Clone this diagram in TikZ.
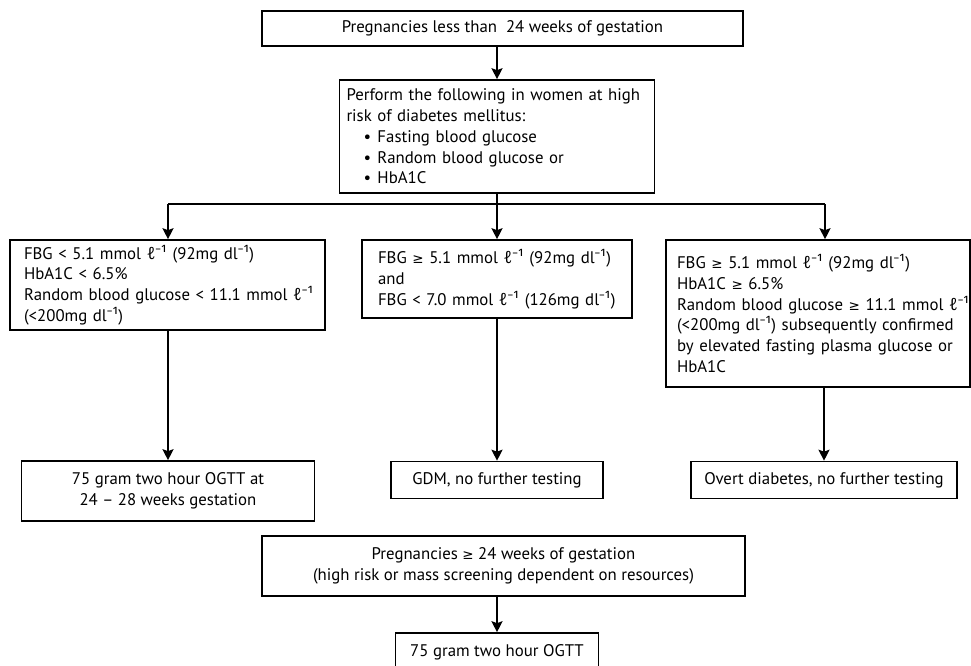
\documentclass[tikz,border=0pt]{standalone}
\usepackage{fontspec}
\setmainfont{PT Sans}
\newfontfamily\symf{Noto Sans}
\newfontfamily\geqf{DejaVu Sans}
\usetikzlibrary{arrows.meta}
\newcommand{\ellinv}{{\symf ℓ⁻¹}}
\newcommand{\myinv}{{\symf ⁻¹}}
\newcommand{\geqs}{{\geqf\fontsize{13.5}{20}\selectfont ≥}}
\newcommand{\bul}{\hspace*{17pt}\makebox[14pt][l]{•}}
\begin{document}
\begin{tikzpicture}[x=1pt,y=-1pt,
  box/.style={draw, line width=1.6pt, inner sep=0pt,
    font=\fontsize{16.8}{20.8}\selectfont},
  lbox/.style={box, align=left},
  cbox/.style={box, align=center},
  arr/.style={line width=1.8pt, -{Stealth[length=11pt,width=11pt,inset=2pt]}},
  ln/.style={line width=1.8pt}]
\useasboundingbox (0,0) rectangle (971,666);
\clip (0,0) rectangle (971,666);

\node[cbox, minimum width=481pt, minimum height=35pt] (top) at (502.5,28.5)
  {Pregnancies less than\ \ 24 weeks of gestation};

\node[lbox, minimum width=315pt, minimum height=113pt, text width=301pt] (b2) at (497,136.5)
  {\mbox{Perform the following in women at high}\\
   \mbox{risk of diabetes mellitus:}\\
   \mbox{\bul Fasting blood glucose}\\
   \mbox{\bul Random blood glucose or}\\
   \mbox{\bul HbA1C}};

\node[lbox, minimum width=315pt, minimum height=90pt, text width=287pt] (ml) at (167.5,285)
  {\mbox{FBG < 5.1 mmol \ellinv{} (92mg dl\myinv)}\\
   \mbox{HbA1C < 6.5\%}\\
   \mbox{Random blood glucose < 11.1 mmol \ellinv}\\
   \mbox{(<200mg dl\myinv)}};

\node[lbox, minimum width=270pt, minimum height=78pt, text width=238pt] (mm) at (497,279)
  {\mbox{FBG \geqs{} 5.1 mmol \ellinv{} (92mg dl\myinv)}\\
   \mbox{and}\\
   \mbox{FBG < 7.0 mmol \ellinv{} (126mg dl\myinv)}};

\node[lbox, minimum width=304pt, minimum height=147pt, text width=282pt] (mr) at (818,313.5)
  {\mbox{FBG \geqs{} 5.1 mmol \ellinv{} (92mg dl\myinv)}\\
   \mbox{HbA1C \geqs{} 6.5\%}\\
   \mbox{Random blood glucose \geqs{} 11.1 mmol \ellinv}\\
   \mbox{(<200mg dl\myinv) subsequently confirmed}\\
   \mbox{by elevated fasting plasma glucose or}\\
   \mbox{HbA1C}};

\node[cbox, minimum width=293pt, minimum height=60pt] (bl) at (168,491)
  {75 gram two hour OGTT at\\24 -- 28 weeks gestation};
\node[cbox, minimum width=212pt, minimum height=37pt] (bm) at (497,480)
  {GDM, no further testing};
\node[cbox, minimum width=266pt, minimum height=37pt] (bo) at (824,480)
  {Overt diabetes, no further testing};

\node[cbox, minimum width=483pt, minimum height=60pt] (p24) at (503.5,566)
  {Pregnancies \geqs{} 24 weeks of gestation\\(high risk or mass screening dependent on resources)};
\node[cbox, minimum width=203pt, minimum height=38pt] (ogtt) at (497,652)
  {75 gram two hour OGTT};

\coordinate (jl) at (168,204);
\coordinate (jr) at (825,204);

\draw[arr] (top.south -| b2.north) -- (b2.north);
\draw[ln] (jl) -- (jr);
\draw[arr] (b2.south) -- (mm.north);
\draw[arr] (jl) -- (jl |- ml.north);
\draw[arr] (jr) -- (jr |- mr.north);
\draw[arr] (ml.south -| bl.north) -- (bl.north);
\draw[arr] (mm.south) -- (bm.north);
\draw[arr] (mr.south -| bo.north) -- (bo.north);
\draw[arr] (p24.south -| ogtt.north) -- (ogtt.north);
\end{tikzpicture}
\end{document}
